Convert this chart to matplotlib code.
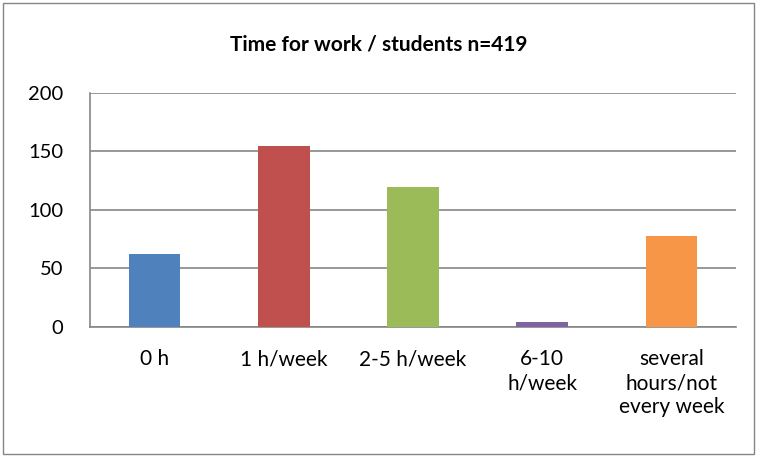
import matplotlib.pyplot as plt
from matplotlib.patches import Rectangle

categories = ["0 h", "1 h/week", "2-5 h/week", "6-10\nh/week", "several\nhours/not\nevery week"]
values = [62, 155, 120, 4, 78]
colors = ["#4F81BD", "#C0504D", "#9BBB59", "#8064A2", "#F79646"]
title = "Time for work / students n=419"

plt.rcParams['font.family'] = ['Lato', 'DejaVu Sans']

fig = plt.figure(figsize=(7.57, 4.57), dpi=100)
# outer chart border
fig.patches.append(Rectangle((0.004, 0.007), 0.992, 0.986, transform=fig.transFigure,
                             fill=False, edgecolor="#868686", linewidth=1))

ax = fig.add_axes([0.1189, 0.2845, 0.8534, 0.512])
x = range(len(categories))
ax.bar(x, values, width=0.4, color=colors, zorder=3)

ax.set_xlim(-0.5, len(categories) - 0.5)
ax.set_ylim(0, 200)
ax.set_yticks([0, 50, 100, 150, 200])
ax.set_xticks(list(x))
ax.set_xticklabels(categories, fontsize=15, linespacing=1.25, va="top")
ax.tick_params(axis="y", labelsize=14.5, length=0, pad=19)
ax.tick_params(axis="x", length=0, pad=16)

ax.grid(axis="y", color="#868686", linewidth=1.2, zorder=0)
for s in ["top", "right"]:
    ax.spines[s].set_visible(False)
for s in ["left", "bottom"]:
    ax.spines[s].set_color("#868686")
    ax.spines[s].set_linewidth(1.2)

fig.text(0.5, 0.903, title, ha="center", va="center", fontsize=15, fontweight="bold")

fig.savefig("out.png", dpi=100)
